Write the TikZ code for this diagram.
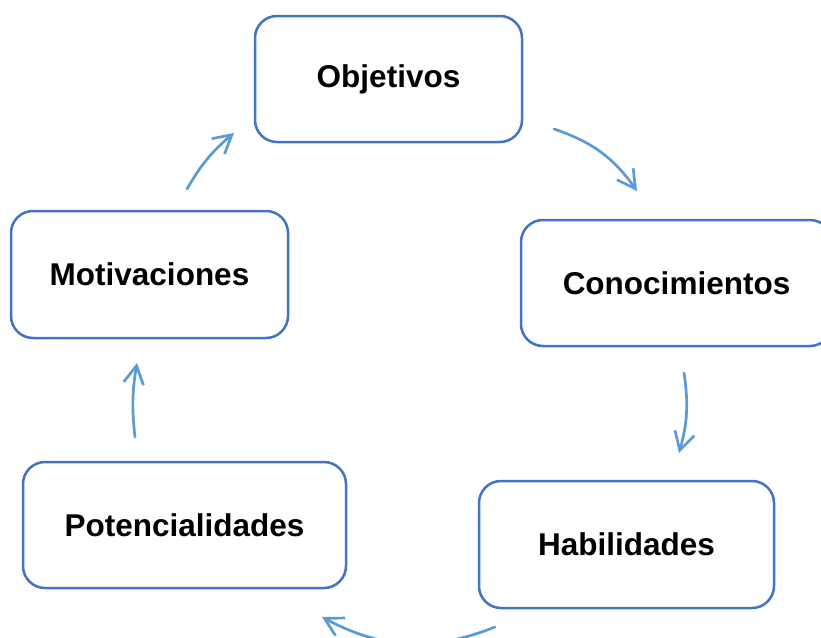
\documentclass[tikz,border=0pt]{standalone}
\usepackage{fontspec}
\setmainfont{Liberation Sans}
\usetikzlibrary{arrows.meta,positioning}

\begin{document}
\begin{tikzpicture}[x=1pt,y=-1pt,
    caja/.style={draw=borde, line width=2.5pt, rounded corners=22pt, fill=white,
        minimum height=126pt, font=\bfseries\fontsize{31.5}{37}\selectfont},
    flecha/.style={draw=ciclo, line width=2.7pt, line cap=round,
        -{Straight Barb[length=18pt,width=20pt,line width=2.7pt]}}]
    % Definizione colori
    \definecolor{borde}{RGB}{68,114,196}
    \definecolor{ciclo}{RGB}{91,155,213}

    % Margini della figura
    \useasboundingbox (0,0) rectangle (821,637);
    \clip (0,0) rectangle (821,637);

    % Caselle del ciclo
    \node[caja, minimum width=267pt] (obj) at (388.5,79) {Objetivos};
    \node[caja, minimum width=311pt] (con) at (676.5,283) {Conocimientos};
    \node[caja, minimum width=295pt, minimum height=127pt] (hab) at (626.5,544.5) {Habilidades};
    \node[caja, minimum width=323pt] (pot) at (184.5,525) {Potencialidades};
    \node[caja, minimum width=277pt, minimum height=127pt] (mot) at (149.5,274.5) {Motivaciones};

    % Estremi delle frecce
    \coordinate (a1s) at (554,129);  \coordinate (a1e) at (637,191);
    \coordinate (a2s) at (684,373);  \coordinate (a2e) at (679,453);
    \coordinate (a3s) at (495,627);  \coordinate (a3e) at (322,617);
    \coordinate (a4s) at (135,437);  \coordinate (a4e) at (137,363);
    \coordinate (a5s) at (187,189);  \coordinate (a5e) at (234,133);

    % Frecce curve
    \draw[flecha] (a1s) to[bend left=18] (a1e);
    \draw[flecha] (a2s) to[bend left=12] (a2e);
    \draw[flecha] (a3s) to[bend left=25] (a3e);
    \draw[flecha] (a4s) to[bend left=8] (a4e);
    \draw[flecha] (a5s) to[bend left=10] (a5e);
\end{tikzpicture}
\end{document}
